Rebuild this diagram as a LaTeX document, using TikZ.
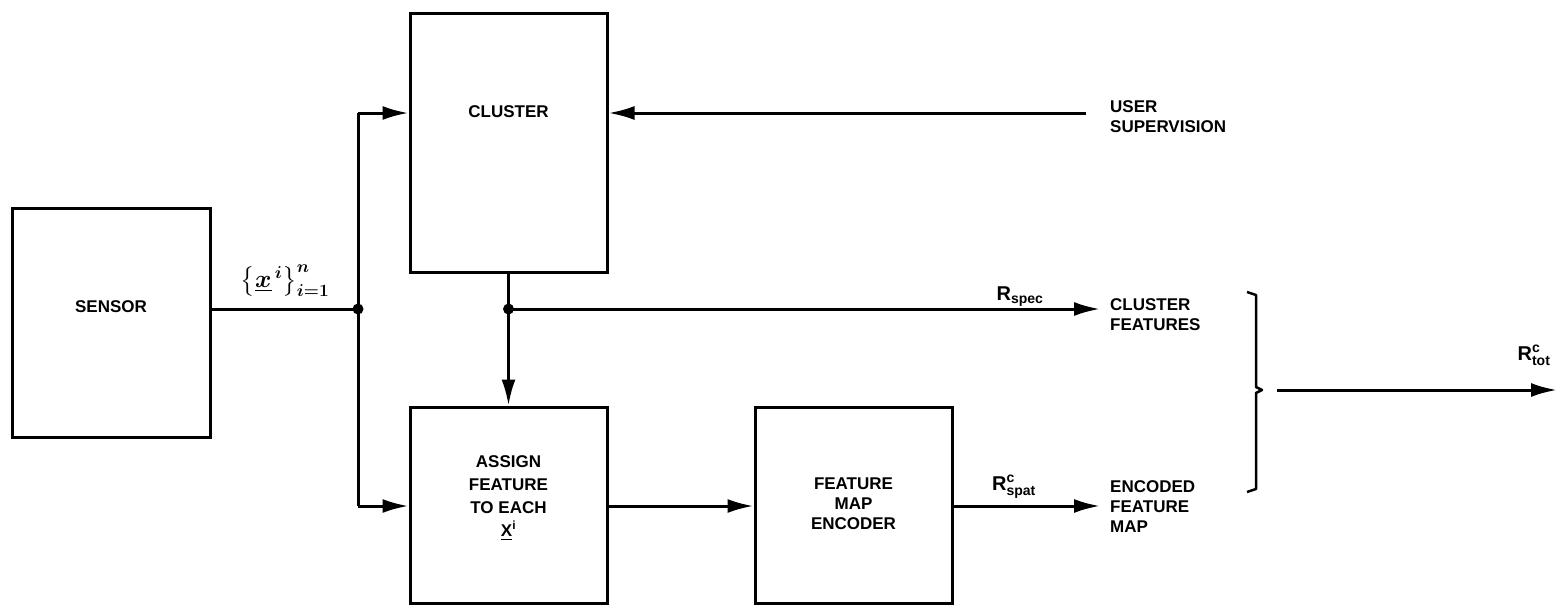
\documentclass[tikz,border=0pt]{standalone}
\usepackage{fontspec}
\usepackage{amsmath}
\setmainfont{Liberation Sans}
\usetikzlibrary{arrows.meta}
\tikzset{
  blk/.style={draw, line width=3pt, minimum width=197pt, inner sep=0pt},
  conn/.style={line width=3pt},
  arr/.style={line width=3pt, -{Latex[length=26pt,width=14pt]}},
  lbl/.style={font=\fontsize{17}{20}\selectfont\bfseries, inner sep=0pt, align=left},
  clbl/.style={font=\fontsize{17}{20}\selectfont\bfseries, inner sep=0pt, align=center},
  rlbl/.style={font=\fontsize{20}{22}\selectfont\bfseries, inner sep=0pt},
  dot/.style={circle, fill, inner sep=0pt, minimum size=11pt},
}
\begin{document}
\begin{tikzpicture}[x=1pt,y=-1pt]
\useasboundingbox (0,0) rectangle (1562,605);
% boxes
\node[blk, minimum height=229pt, minimum width=198pt] (sensor) at (111,322.5) {};
\node[clbl] at (111,307) {SENSOR};
\node[blk, minimum height=259pt] (cluster) at (508.5,142.5) {};
\node[clbl] at (508.5,112) {CLUSTER};
\node[blk, minimum height=196pt] (assign) at (508.5,505) {};
\node[clbl, font=\fontsize{17}{23}\selectfont\bfseries] at (508.5,498) {ASSIGN\\FEATURE\\TO EACH\\$\underline{\text{X}}^{\text{i}}$};
\node[blk, minimum height=196pt] (fme) at (853.5,505) {};
\node[clbl] at (853.5,504) {FEATURE\\MAP\\ENCODER};
% junctions
\coordinate (j1) at (358,309);
\coordinate (j2) at (508.5,309);
\coordinate (ctop) at (358,113);
\coordinate (cbot) at (358,506);
\node[dot] (d1) at (j1) {};
\node[dot] (d2) at (j2) {};
% external texts
\node[lbl, anchor=west] (user) at (1110,117) {USER\\SUPERVISION};
\node[lbl, anchor=west] (cfeat) at (1110,315) {CLUSTER\\FEATURES};
\node[lbl, anchor=west] (efm) at (1110,507) {ENCODED\\FEATURE\\MAP};
\coordinate (userend) at (1086,113);
\coordinate (cfin) at (1100,309);
\coordinate (efin) at (1100,506);
\coordinate (out0) at (1277,390);
\coordinate (out1) at (1557,390);
% connectors
\draw[conn] (sensor.east |- j1) -- (j1);
\draw[conn] (ctop) -- (cbot);
\draw[arr] (ctop) -- (cluster.west |- ctop);
\draw[arr] (cbot) -- (assign.west |- cbot);
\draw[arr] (userend) -- (cluster.east |- userend);
\draw[arr] (cluster.south) -- (assign.north);
\draw[arr] (j2) -- (cfin);
\draw[arr] (assign.east |- cbot) -- (fme.west |- cbot);
\draw[arr] (fme.east |- efin) -- (efin);
\draw[arr] (out0) -- (out1);
% brace
\draw[line width=2.5pt, line join=round] (1247,292) -- (1256,295) -- (1256,387) -- (1262,390) -- (1256,393) -- (1256,489) -- (1247,492);
% labels
\node[font=\fontsize{24}{26}\selectfont, inner sep=0pt] at (285,281) {$\boldsymbol{\left\{\underline{x}^{\,i}\right\}^{n}_{i=1}}$};
\node[rlbl] at (1020,297) {$\text{R}_{\text{spec}}$};
\node[rlbl] at (1014,487) {$\text{R}^{\text{c}}_{\text{spat}}$};
\node[rlbl] at (1534,355) {$\text{R}^{\text{c}}_{\text{tot}}$};
\end{tikzpicture}
\end{document}
